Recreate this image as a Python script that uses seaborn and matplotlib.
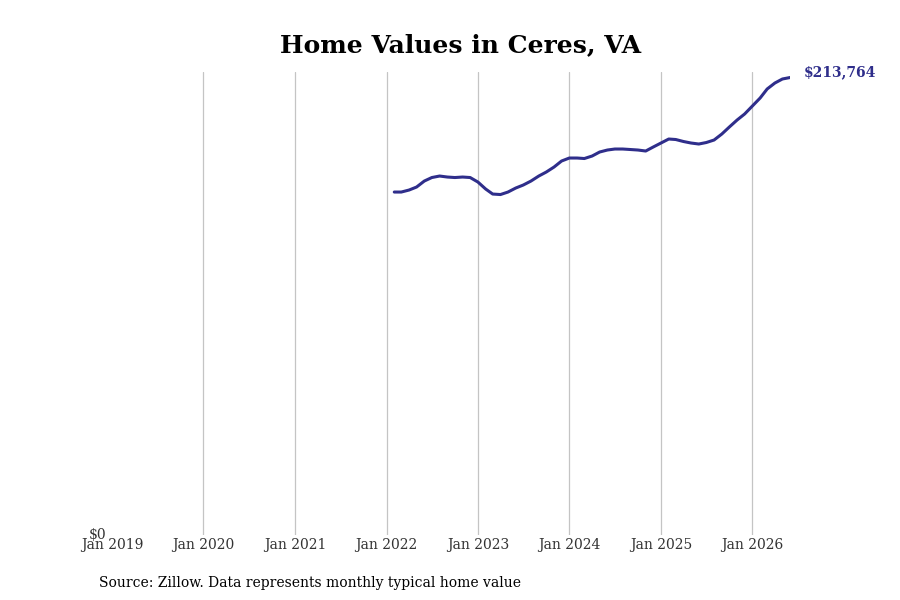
import pandas as pd
import matplotlib
matplotlib.use("Agg")
import matplotlib.pyplot as plt
from matplotlib.ticker import FixedLocator, FuncFormatter
import seaborn as sns

# monthly typical home value, Feb 2022 - Jun 2026
months = pd.date_range("2022-02-01", "2026-06-01", freq="MS")
values = [
    160266, 160266, 161201, 162603, 165407, 167042, 167743, 167276, 167042, 167276, 167042,
    164939, 161669, 159332, 159099, 160266, 162136, 163538, 165407, 167743, 169612, 171948, 174752,
    176153, 176153, 175920, 177088, 178957, 179891, 180359, 180359, 180125, 179891, 179424, 181293,
    183162, 185031, 184797, 183863, 183162, 182695, 183396, 184564, 187368, 190638, 193909, 196712,
    200450, 204188, 208394, 211197, 213066, 213764,
]
tick_years = [2019, 2020, 2021, 2022, 2023, 2024, 2025, 2026]

df = pd.DataFrame({"date": months, "value": values})
line_color = "#2f2e8b"

sns.set_style("white")
plt.rcParams["font.family"] = ["DejaVu Serif"]

fig, ax = plt.subplots(figsize=(9, 6), dpi=100)
fig.subplots_adjust(left=0.1245, right=0.878, top=0.88, bottom=0.108)

sns.lineplot(data=df, x="date", y="value", color=line_color, linewidth=2.2, ax=ax)

ax.set_xlim(pd.Timestamp("2019-01-01"), df["date"].iloc[-1])
ax.set_ylim(0, max(values) * 1.012)

ticks = [pd.Timestamp(f"{y}-01-01") for y in tick_years]
ax.set_xticks(ticks)
ax.set_xticklabels([f"Jan {y}" for y in tick_years], color="#333333", fontsize=10)
ax.xaxis.grid(True, color="#c4c4c4", linewidth=0.9)
ax.yaxis.grid(False)
# hide the gridline on the left edge
ax.get_xgridlines()[0].set_visible(False)

ax.yaxis.set_major_locator(FixedLocator([0]))
ax.yaxis.set_major_formatter(FuncFormatter(lambda v, p: f"${v:,.0f}"))
ax.tick_params(axis="y", labelsize=10, labelcolor="#333333", length=0, pad=4)
ax.tick_params(axis="x", length=0, pad=2)
for lab in ax.get_yticklabels():
    lab.set_verticalalignment("center")

for s in ax.spines.values():
    s.set_visible(False)

ax.set_xlabel("")
ax.set_ylabel("")

ax.annotate(f"${values[-1]:,}", xy=(df["date"].iloc[-1], values[-1]),
            xytext=(10, 4), textcoords="offset points", ha="left", va="center",
            color=line_color, fontsize=10, fontweight="bold", annotation_clip=False)

fig.suptitle("Home Values in Ceres, VA", fontsize=18, fontweight="bold",
             color="black", x=0.512, y=0.945)
fig.text(0.11, 0.022, "Source: Zillow. Data represents monthly typical home value",
         fontsize=10, color="black")

fig.savefig("out.png", dpi=100)
